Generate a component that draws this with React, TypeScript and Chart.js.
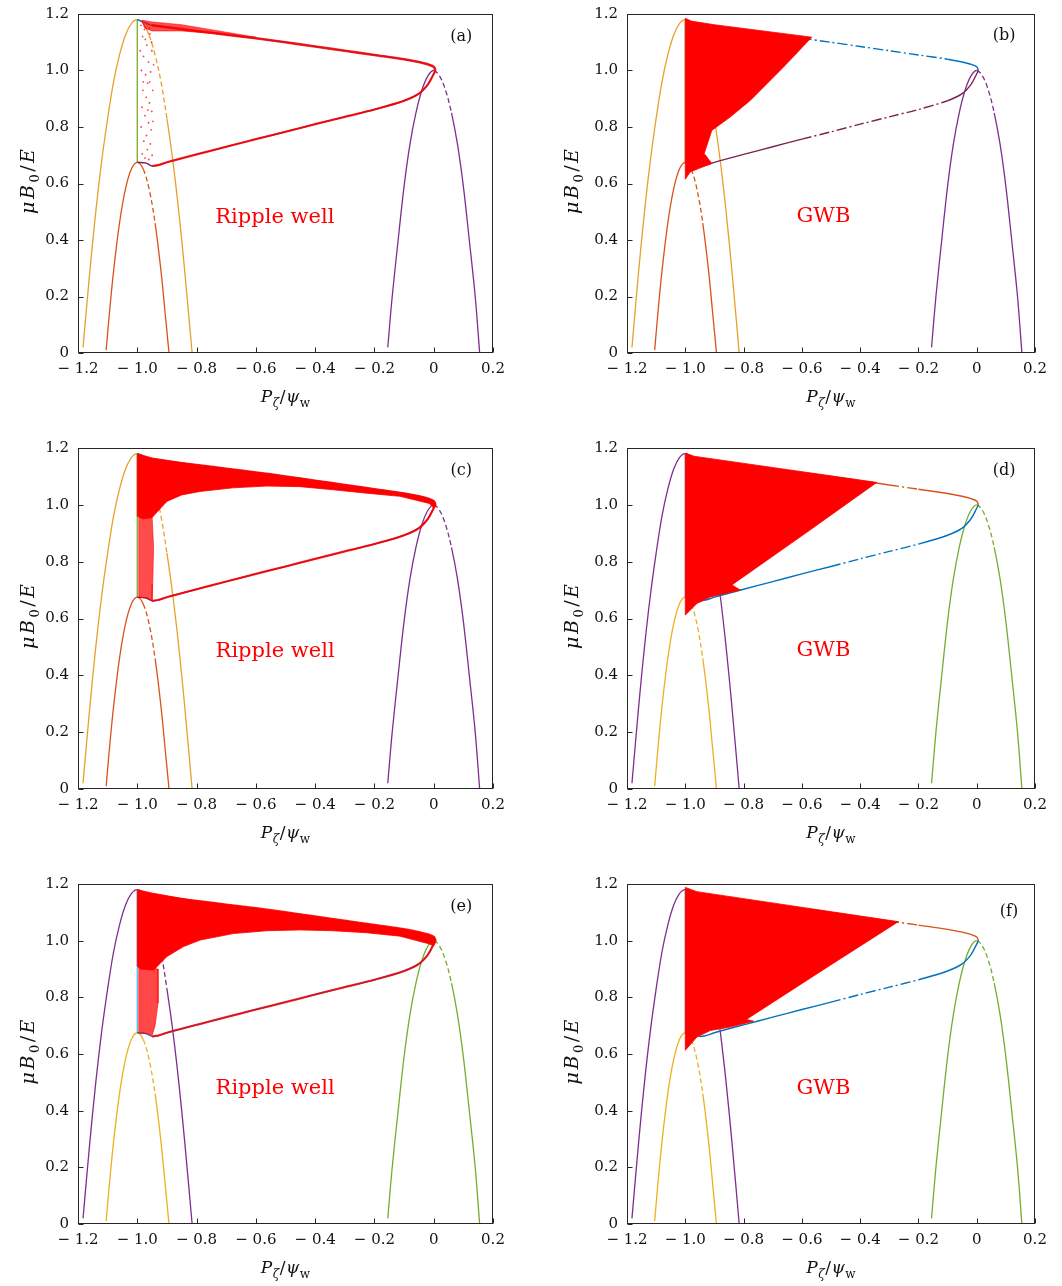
import React, { useEffect, useRef } from 'react';
import { Chart, registerables } from 'chart.js';
Chart.register(...registerables);

type P = [number, number];

// ---------- axes ----------
const X_TICKS = [-1.2, -1.0, -0.8, -0.6, -0.4, -0.2, 0, 0.2];
const X_TICK_LABELS = ['− 1.2', '− 1.0', '− 0.8', '− 0.6', '− 0.4', '− 0.2', '0', '0.2'];
const Y_TICKS = [0, 0.2, 0.4, 0.6, 0.8, 1.0, 1.2];
const Y_TICK_LABELS = ['0', '0.2', '0.4', '0.6', '0.8', '1.0', '1.2'];

// ---------- boundary curves ----------
const BIG_ARC: P[] = [[-1.183, 0.02], [-1.16, 0.29], [-1.14, 0.5], [-1.12, 0.68], [-1.10, 0.83], [-1.08, 0.96], [-1.06, 1.055], [-1.04, 1.125], [-1.02, 1.166], [-1.0, 1.18], [-0.98, 1.166], [-0.96, 1.125], [-0.94, 1.055], [-0.92, 0.96], [-0.90, 0.83], [-0.88, 0.68], [-0.86, 0.5], [-0.84, 0.29], [-0.815, 0.0]];
const SMALL_ARC: P[] = [[-1.105, 0.01], [-1.095, 0.13], [-1.08, 0.29], [-1.06, 0.46], [-1.04, 0.58], [-1.02, 0.651], [-1.0, 0.675], [-0.98, 0.651], [-0.96, 0.58], [-0.94, 0.46], [-0.92, 0.29], [-0.905, 0.13], [-0.893, 0.0]];
const RIGHT_ARC: P[] = [[-0.155, 0.02], [-0.14, 0.2], [-0.12, 0.4], [-0.10, 0.59], [-0.08, 0.74], [-0.06, 0.85], [-0.04, 0.93], [-0.02, 0.98], [0.0, 1.0], [0.02, 0.98], [0.04, 0.93], [0.06, 0.85], [0.08, 0.74], [0.10, 0.59], [0.12, 0.4], [0.14, 0.2], [0.155, 0.0]];
const UPPER_LINE: P[] = [[-1.0, 1.18], [-0.97, 1.168], [-0.95, 1.16], [-0.9, 1.153], [-0.8, 1.14], [-0.7, 1.127], [-0.6, 1.114], [-0.5, 1.1], [-0.4, 1.085], [-0.3, 1.07], [-0.2, 1.055], [-0.1, 1.04], [-0.05, 1.03], [-0.02, 1.022], [0.0, 1.013], [0.006, 1.0]];
const LOWER_LINE: P[] = [[-1.0, 0.675], [-0.97, 0.672], [-0.95, 0.662], [-0.93, 0.665], [-0.9, 0.675], [-0.8, 0.703], [-0.7, 0.73], [-0.6, 0.757], [-0.5, 0.783], [-0.4, 0.81], [-0.3, 0.836], [-0.2, 0.862], [-0.1, 0.893], [-0.05, 0.918], [-0.02, 0.95], [-0.005, 0.978], [0.006, 1.0]];
const VERTICAL: P[] = [[-1.0, 0.675], [-1.0, 1.18]];

// ---------- orbit regions (red) ----------
const SPECKLE_A: P[] = [[-0.988, 1.16], [-0.982, 1.12], [-0.976, 1.145], [-0.968, 1.09], [-0.957, 1.13], [-0.951, 1.07], [-0.979, 1.05], [-0.962, 1.03], [-0.986, 1.0], [-0.972, 0.985], [-0.955, 0.995], [-0.965, 0.955], [-0.981, 0.93], [-0.948, 0.93], [-0.97, 0.905], [-0.959, 0.885], [-0.984, 0.87], [-0.951, 0.855], [-0.974, 0.84], [-0.962, 0.815], [-0.987, 0.8], [-0.953, 0.79], [-0.969, 0.77], [-0.978, 0.75], [-0.956, 0.74], [-0.966, 0.72], [-0.983, 0.705], [-0.95, 0.7], [-0.961, 0.685], [-0.974, 0.69], [-0.958, 0.96], [-0.945, 1.02], [-0.99, 1.07], [-0.973, 1.11], [-0.96, 1.15], [-0.947, 0.82], [-0.98, 0.96], [-0.964, 0.86], [-0.952, 1.1], [-0.967, 1.165]];
const BAND_A: P[] = [[-0.985, 1.178], [-0.95, 1.172], [-0.85, 1.162], [-0.6, 1.118], [-0.85, 1.14], [-0.95, 1.14], [-0.975, 1.15]];
const BLOB_C: P[] = [[-1.0, 1.18], [-0.95, 1.165], [-0.8, 1.14], [-0.6, 1.114], [-0.4, 1.085], [-0.2, 1.055], [-0.1, 1.04], [-0.03, 1.024], [0.0, 1.015], [0.008, 1.0], [0.0, 0.988], [-0.015, 1.005], [-0.114, 1.03], [-0.227, 1.041], [-0.339, 1.053], [-0.451, 1.064], [-0.563, 1.066], [-0.676, 1.06], [-0.788, 1.047], [-0.85, 1.035], [-0.9, 1.012], [-0.92, 0.99], [-0.95, 0.955], [-0.98, 0.95], [-1.0, 0.96]];
const STRIP_C: P[] = [[-0.995, 0.675], [-0.995, 0.96], [-0.95, 0.96], [-0.945, 0.85], [-0.948, 0.72], [-0.95, 0.665], [-0.97, 0.672]];
const BLOB_E: P[] = [[-1.0, 1.18], [-0.95, 1.168], [-0.8, 1.14], [-0.6, 1.114], [-0.4, 1.085], [-0.2, 1.055], [-0.1, 1.04], [-0.03, 1.024], [0.0, 1.015], [0.008, 1.0], [0.0, 0.982], [-0.02, 0.99], [-0.114, 1.016], [-0.227, 1.028], [-0.339, 1.035], [-0.451, 1.038], [-0.563, 1.035], [-0.676, 1.025], [-0.788, 1.002], [-0.844, 0.979], [-0.9, 0.944], [-0.945, 0.896], [-0.99, 0.9], [-1.0, 0.91]];
const STRIP_E: P[] = [[-0.995, 0.675], [-0.995, 0.91], [-0.93, 0.9], [-0.93, 0.78], [-0.94, 0.7], [-0.95, 0.665], [-0.97, 0.672]];
const GWB_B: P[] = [[-1.0, 0.615], [-1.0, 1.185], [-0.98, 1.175], [-0.9, 1.162], [-0.566, 1.118], [-0.663, 1.012], [-0.777, 0.894], [-0.846, 0.835], [-0.909, 0.788], [-0.935, 0.706], [-0.909, 0.671], [-0.954, 0.653], [-0.983, 0.641]];
const GWB_D: P[] = [[-1.0, 0.612], [-1.0, 1.182], [-0.97, 1.171], [-0.343, 1.079], [-0.571, 0.912], [-0.8, 0.747], [-0.84, 0.718], [-0.811, 0.7], [-0.914, 0.676], [-0.96, 0.653]];
const GWB_F: P[] = [[-1.0, 0.613], [-1.0, 1.188], [-0.96, 1.173], [-0.269, 1.067], [-0.5, 0.915], [-0.777, 0.731], [-0.79, 0.722], [-0.766, 0.716], [-0.846, 0.695], [-0.914, 0.683], [-0.96, 0.66]];

// ---------- text ----------
const NOTES = ['Ripple well', 'GWB', 'Ripple well', 'GWB', 'Ripple well', 'GWB'];
const NOTE_POS: P[] = [[-0.536, 0.481], [-0.526, 0.482], [-0.535, 0.484], [-0.526, 0.486], [-0.535, 0.479], [-0.526, 0.477]];
const PANEL_LABELS = ['(a)', '(b)', '(c)', '(d)', '(e)', '(f)'];
const LABEL_POS: P[] = [[0.093, 1.118], [0.094, 1.124], [0.093, 1.118], [0.094, 1.118], [0.093, 1.12], [0.111, 1.102]];

const COLORS_1 = { big: '#E8A02C', small: '#D95319', right: '#7E2F8E', upper: '#0072BD', lower: '#7B2350', vert: '#77AC30' };
const COLORS_2 = { big: '#7E2F8E', small: '#EDB120', right: '#77AC30', upper: '#D95319', lower: '#0072BD', vert: '#4DBEEE' };

const FONT = '"DejaVu Serif", serif';
const RED = '#FF0000';
const DASH_LINE = [10, 3, 2, 3];
const DASH_ARC = [5, 3];

type Range = [number, number] | null;
interface Spec {
  colors: typeof COLORS_1;
  dash: { big: Range; small: Range; right: Range; upper: Range; lower: Range };
  polys: { pts: P[]; color: string }[];
  speckles?: P[];
  redLines?: boolean;
}

const SPECS: Spec[] = [
  { colors: COLORS_1, dash: { big: [-0.97, -0.9], small: [-0.99, -0.93], right: [0, 0.07], upper: null, lower: null }, polys: [{ pts: BAND_A, color: 'rgba(255,0,0,0.7)' }], speckles: SPECKLE_A, redLines: true },
  { colors: COLORS_1, dash: { big: null, small: [-0.99, -0.93], right: [0, 0.07], upper: [-0.57, -0.15], lower: [-0.62, -0.15] }, polys: [{ pts: GWB_B, color: RED }] },
  { colors: COLORS_1, dash: { big: [-0.97, -0.9], small: [-0.99, -0.93], right: [0, 0.07], upper: null, lower: null }, polys: [{ pts: BLOB_C, color: RED }, { pts: STRIP_C, color: 'rgba(255,0,0,0.7)' }], redLines: true },
  { colors: COLORS_2, dash: { big: null, small: [-0.99, -0.93], right: [0, 0.07], upper: [-0.34, -0.2], lower: [-0.55, -0.2] }, polys: [{ pts: GWB_D, color: RED }] },
  { colors: COLORS_2, dash: { big: [-0.93, -0.9], small: [-0.99, -0.93], right: [0, 0.07], upper: null, lower: null }, polys: [{ pts: BLOB_E, color: RED }, { pts: STRIP_E, color: 'rgba(255,0,0,0.72)' }], redLines: true },
  { colors: COLORS_2, dash: { big: null, small: [-0.99, -0.93], right: [0, 0.07], upper: [-0.27, -0.2], lower: [-0.55, -0.2] }, polys: [{ pts: GWB_F, color: RED }] },
];

const toXY = (pts: P[]) => pts.map(([x, y]) => ({ x, y }));

function lineDs(pts: P[], color: string, range: Range, pattern: number[], order: number, width = 1.3, tension = 0.35) {
  return {
    data: toXY(pts),
    showLine: true,
    borderColor: color,
    borderWidth: width,
    pointRadius: 0,
    tension,
    fill: false,
    order,
    segment: range
      ? {
          borderDash: (c: any) => {
            const m = (c.p0.parsed.x + c.p1.parsed.x) / 2;
            return m > range[0] && m < range[1] ? pattern : undefined;
          },
        }
      : undefined,
  };
}

function buildDatasets(s: Spec) {
  const ds: any[] = [];
  const c = s.colors;
  ds.push(lineDs(BIG_ARC, c.big, s.dash.big, DASH_ARC, 5));
  ds.push(lineDs(SMALL_ARC, c.small, s.dash.small, DASH_ARC, 5));
  ds.push(lineDs(RIGHT_ARC, c.right, s.dash.right, DASH_ARC, 5));
  ds.push(lineDs(VERTICAL, c.vert, null, [], 4, 1.3, 0));
  ds.push(lineDs(UPPER_LINE, c.upper, s.dash.upper, DASH_LINE, 3, 1.4, 0.3));
  ds.push(lineDs(LOWER_LINE, c.lower, s.dash.lower, DASH_LINE, 3, 1.4, 0.3));
  s.polys.forEach((p) => {
    ds.push({
      data: toXY([...p.pts, p.pts[0]]),
      showLine: true,
      borderColor: p.color,
      backgroundColor: p.color,
      borderWidth: 0.8,
      pointRadius: 0,
      tension: 0,
      fill: 'shape',
      order: 1,
    });
  });
  if (s.redLines) {
    ds.push(lineDs(UPPER_LINE.filter((p) => p[0] >= -0.95), 'rgba(255,0,0,0.85)', null, [], 0, 2.6, 0.3));
    ds.push(lineDs(LOWER_LINE.filter((p) => p[0] >= -0.95), 'rgba(255,0,0,0.8)', null, [], 0, 2.2, 0.3));
  }
  if (s.speckles) {
    ds.push({ data: toXY(s.speckles), showLine: false, pointRadius: 0.9, pointBorderWidth: 0, backgroundColor: 'rgba(255,0,0,0.75)', order: 0 });
  }
  return ds;
}

type Piece = { t: string; it?: boolean; sub?: boolean };
function drawRich(ctx: CanvasRenderingContext2D, pieces: Piece[], cx: number, base: number, size: number, gap: number) {
  const fontOf = (p: Piece) => `${p.it ? 'italic ' : ''}${p.sub ? Math.round(size * 0.7) : size}px ${FONT}`;
  const widths = pieces.map((p) => {
    ctx.font = fontOf(p);
    return ctx.measureText(p.t).width;
  });
  const total = widths.reduce((a, b) => a + b, 0) + gap * (pieces.length - 1);
  let x = cx - total / 2;
  ctx.textAlign = 'left';
  ctx.textBaseline = 'alphabetic';
  pieces.forEach((p, i) => {
    ctx.font = fontOf(p);
    ctx.fillText(p.t, x, base + (p.sub ? size * 0.28 : 0));
    x += widths[i] + gap;
  });
}

const X_TITLE: Piece[] = [{ t: 'P', it: true }, { t: 'ζ', it: true, sub: true }, { t: '/', it: false }, { t: 'ψ', it: true }, { t: 'w', sub: true }];
const Y_TITLE: Piece[] = [{ t: 'μ', it: true }, { t: 'B', it: true }, { t: '0', sub: true }, { t: '/', it: false }, { t: 'E', it: true }];

function makeDecor(idx: number, col: number) {
  return {
    id: 'decor' + idx,
    afterDatasetsDraw(chart: any) {
      const { ctx, chartArea: a, scales } = chart;
      const xs = scales.x;
      const ys = scales.y;
      ctx.save();
      ctx.strokeStyle = '#262626';
      ctx.lineWidth = 1;
      const l = Math.round(a.left) + 0.5;
      const t = Math.round(a.top) + 0.5;
      const r = Math.round(a.right) - 0.5;
      const b = Math.round(a.bottom) - 0.5;
      ctx.strokeRect(l, t, r - l, b - t);
      ctx.beginPath();
      X_TICKS.forEach((v) => {
        const px = Math.round(xs.getPixelForValue(v)) + 0.5;
        ctx.moveTo(px, b);
        ctx.lineTo(px, b - 5);
      });
      Y_TICKS.forEach((v) => {
        const py = Math.round(ys.getPixelForValue(v)) + 0.5;
        ctx.moveTo(l, py);
        ctx.lineTo(l + 5, py);
      });
      ctx.stroke();

      ctx.fillStyle = RED;
      ctx.font = `21px ${FONT}`;
      ctx.textAlign = 'center';
      ctx.textBaseline = 'middle';
      ctx.fillText(NOTES[idx], xs.getPixelForValue(NOTE_POS[idx][0]), ys.getPixelForValue(NOTE_POS[idx][1]));

      ctx.fillStyle = '#111';
      ctx.font = `16px ${FONT}`;
      ctx.fillText(PANEL_LABELS[idx], xs.getPixelForValue(LABEL_POS[idx][0]), ys.getPixelForValue(LABEL_POS[idx][1]));

      ctx.fillStyle = '#111';
      drawRich(ctx, X_TITLE, (a.left + a.right) / 2, a.bottom + 49, 17, 0.5);
      ctx.save();
      ctx.translate(a.left - (col === 0 ? 44 : 49), (a.top + a.bottom) / 2 - 2);
      ctx.rotate(-Math.PI / 2);
      drawRich(ctx, Y_TITLE, 0, 0, 19, 2.5);
      ctx.restore();
      ctx.restore();
    },
  };
}

const COL_LEFT = [0, 549];
const COL_WIDTH = [530, 513];
const COL_PAD_RIGHT = [37, 27];
const ROW_TOP = [0, 434, 870];
const ROW_HEIGHT = [430, 430, 416];
const ROW_XAXIS = [60, 60, 50];
const ROW_PAD_BOTTOM = [17, 15, 12];

function Panel({ idx }: { idx: number }) {
  const ref = useRef<HTMLCanvasElement>(null);
  const col = idx % 2;
  const row = Math.floor(idx / 2);
  useEffect(() => {
    if (!ref.current) return;
    const tickFont = { family: FONT, size: 15 };
    const chart = new Chart(ref.current, {
      type: 'scatter',
      data: { datasets: buildDatasets(SPECS[idx]) },
      options: {
        animation: false,
        responsive: false,
        maintainAspectRatio: false,
        layout: { padding: { left: 0, top: 14, right: COL_PAD_RIGHT[col], bottom: ROW_PAD_BOTTOM[row] } },
        plugins: { legend: { display: false }, tooltip: { enabled: false } },
        scales: {
          x: {
            type: 'linear',
            min: -1.2,
            max: 0.2,
            afterBuildTicks: (s: any) => {
              s.ticks = X_TICKS.map((v) => ({ value: v }));
            },
            afterFit: (s: any) => {
              s.height = ROW_XAXIS[row];
              s.paddingLeft = 0;
              s.paddingRight = 0;
            },
            grid: { display: false, drawTicks: false },
            border: { display: false },
            ticks: {
              autoSkip: false,
              maxRotation: 0,
              padding: 7,
              color: '#111',
              font: tickFont,
              callback: (_v: any, i: number) => X_TICK_LABELS[i],
            },
          },
          y: {
            type: 'linear',
            min: 0,
            max: 1.2,
            afterBuildTicks: (s: any) => {
              s.ticks = Y_TICKS.map((v) => ({ value: v }));
            },
            afterFit: (s: any) => {
              s.width = 78;
              s.paddingTop = 0;
              s.paddingBottom = 0;
            },
            grid: { display: false, drawTicks: false },
            border: { display: false },
            ticks: {
              autoSkip: false,
              padding: 9,
              color: '#111',
              font: tickFont,
              callback: (_v: any, i: number) => Y_TICK_LABELS[i],
            },
          },
        },
      } as any,
      plugins: [makeDecor(idx, col)],
    });
    return () => chart.destroy();
  }, [idx]);
  return (
    <canvas
      ref={ref}
      width={COL_WIDTH[col]}
      height={ROW_HEIGHT[row]}
      style={{ position: 'absolute', left: COL_LEFT[col], top: ROW_TOP[row], width: COL_WIDTH[col], height: ROW_HEIGHT[row] }}
    />
  );
}

export default function App() {
  return (
    <div style={{ position: 'absolute', left: 0, top: 0, width: 1062, height: 1286, overflow: 'hidden', background: '#fff' }}>
      {[0, 1, 2, 3, 4, 5].map((i) => (
        <Panel key={i} idx={i} />
      ))}
    </div>
  );
}
